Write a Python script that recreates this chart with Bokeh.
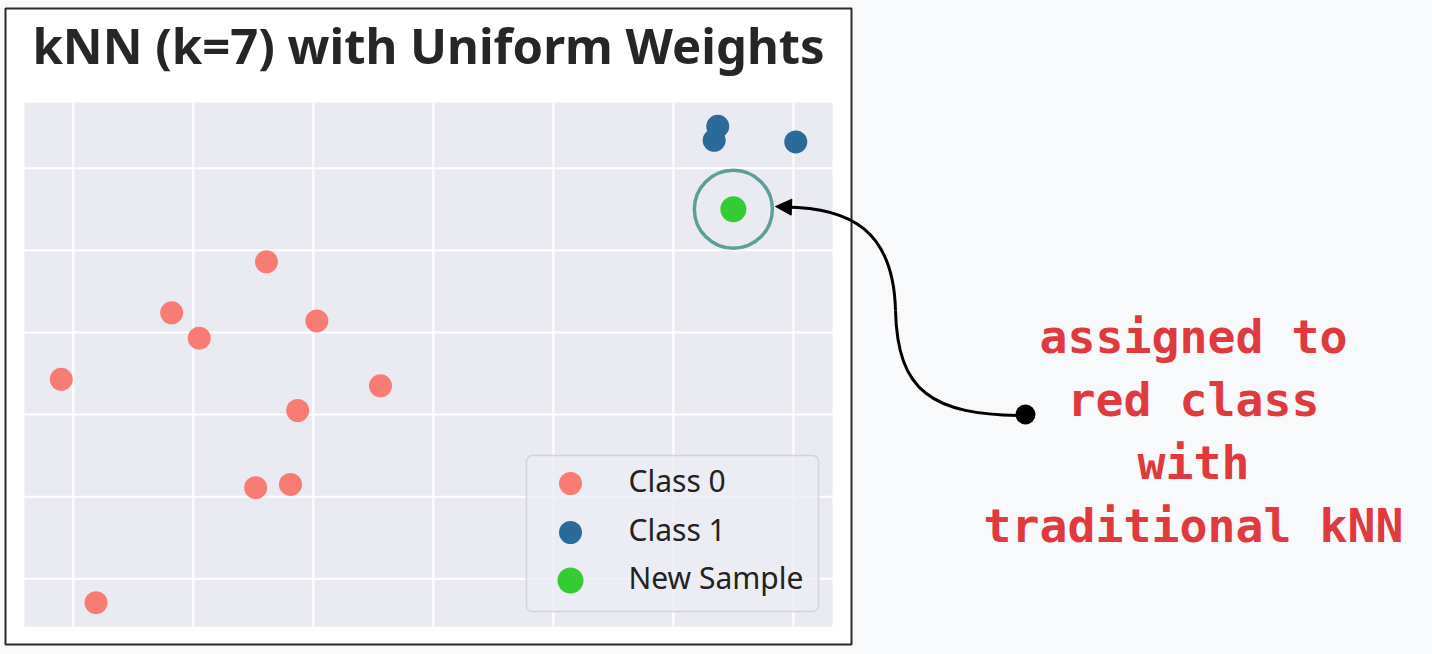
from bokeh.plotting import figure
from bokeh.models import Range1d, Arrow, NormalHead
from bokeh.core.properties import value
from bokeh.embed import file_html
from bokeh.resources import INLINE

# ---------------- data ----------------
title_text = "kNN (k=7) with Uniform Weights"
class0_x = [2.61, 1.82, 2.05, 3.03, 0.90, 3.56, 2.87, 2.52, 2.81, 1.19]
class0_y = [4.86, 4.24, 3.93, 4.14, 3.43, 3.35, 3.05, 2.11, 2.15, 0.71]
class1_x = [6.37, 6.34, 7.02]
class1_y = [6.51, 6.34, 6.32]
new_x = [6.5]
new_y = [5.5]
x_ticks = [1, 2, 3, 4, 5, 6, 7]
y_ticks = [1, 2, 3, 4, 5, 6]
legend_labels = ["Class 0", "Class 1", "New Sample"]
legend_colors = ["#f97c73", "#2a6b9b", "#33cc33"]
note_lines = ["assigned to", "red class", "with", "traditional kNN"]

# ---------------- layout (page pixels, y up) ----------------
W, H = 1432, 654
PA_L, PA_R, PA_B, PA_T = 24, 832, 28, 552      # grey plot area
BOX_L, BOX_R, BOX_B, BOX_T = 5, 851, 10, 646    # white panel
BASE_FIX = 0.43                                  # alphabetic baseline correction (x font size)

all_x = class0_x + class1_x + new_x
all_y = class0_y + class1_y + new_y
xspan = max(all_x) - min(all_x)
yspan = max(all_y) - min(all_y)
xlo, xhi = min(all_x) - 0.05 * xspan, max(all_x) + 0.05 * xspan
ylo, yhi = min(all_y) - 0.05 * yspan, max(all_y) + 0.05 * yspan

sx = (PA_R - PA_L) / (xhi - xlo)
sy = (PA_T - PA_B) / (yhi - ylo)
dx_range = Range1d(xlo - PA_L / sx, xlo + (W - PA_L) / sx)
dy_range = Range1d(ylo - PA_B / sy, ylo + (H - PA_B) / sy)

p = figure(width=W, height=H, x_range=Range1d(0, W), y_range=Range1d(0, H),
           x_axis_type=None, y_axis_type=None, output_backend="svg",
           toolbar_location=None, min_border=0, title=None)
p.extra_x_ranges = {"d": dx_range}
p.extra_y_ranges = {"d": dy_range}
p.outline_line_color = None
p.border_fill_color = "#f8f9fb"
p.background_fill_color = "#f8f9fb"

D = dict(x_range_name="d", y_range_name="d")

# white panel
p.quad(left=[BOX_L], right=[BOX_R], bottom=[BOX_B], top=[BOX_T],
       fill_color="white", line_color="#2b2b2b", line_width=2)

# grey plot area + grid
p.quad(left=[xlo], right=[xhi], bottom=[ylo], top=[yhi],
       fill_color="#eaeaf2", line_color=None, **D)
p.segment(x0=x_ticks, y0=[ylo] * len(x_ticks), x1=x_ticks, y1=[yhi] * len(x_ticks),
          line_color="white", line_width=2, **D)
p.segment(x0=[xlo] * len(y_ticks), y0=y_ticks, x1=[xhi] * len(y_ticks), y1=y_ticks,
          line_color="white", line_width=2, **D)

# points
p.scatter(class0_x, class0_y, size=23, fill_color=legend_colors[0], line_color=None, **D)
p.scatter(class1_x, class1_y, size=23, fill_color=legend_colors[1], line_color=None, **D)
p.scatter(new_x, new_y, size=78, fill_color=None, line_color="#5b9f98",
          line_width=3.5, **D)
p.scatter(new_x, new_y, size=26, fill_color=legend_colors[2], line_color=None, **D)

# legend (drawn by hand for exact spacing)
LG_L, LG_R, LG_B, LG_T = 526, 818, 43, 199
p.quad(left=[LG_L], right=[LG_R], bottom=[LG_B], top=[LG_T],
       fill_color="#eceef4", fill_alpha=0.8, line_color="#d3d4da", line_width=1.5,
       border_radius=6)
row_y = [171, 122, 74]
p.scatter([570] * 3, row_y, size=[23, 23, 26], fill_color=legend_colors, line_color=None)
lab_fs = 30
p.text(x=[628] * 3, y=[y - 10 + BASE_FIX * lab_fs for y in row_y], text=legend_labels,
       text_align="left", text_baseline="alphabetic",
       text_font=value("Noto Sans"), text_font_size=f"{lab_fs}px", text_color="#222222")

# title
tfs = 49
p.text(x=[(BOX_L + BOX_R) / 2], y=[654 - 66 + BASE_FIX * tfs], text=[title_text],
       text_align="center", text_baseline="alphabetic",
       text_font=value("Noto Sans"), text_font_style="bold",
       text_font_size=f"{tfs}px", text_color="#262626")

# annotation text
nfs = 46.5
base_y = 654 - 356
pitch = 63.3
p.text(x=[1193] * len(note_lines),
       y=[base_y - i * pitch + BASE_FIX * nfs for i in range(len(note_lines))],
       text=note_lines, text_align="center", text_baseline="alphabetic",
       text_font=value("DejaVu Sans Mono"), text_font_style="bold",
       text_font_size=f"{nfs}px", text_color="#e0393e")

# curved arrow
p.bezier(x0=[1025, 895], y0=[239, 344], x1=[895, 784], y1=[344, 447.5],
         cx0=[930, 893], cy0=[239, 424], cx1=[897, 850], cy1=[264, 447],
         line_color="black", line_width=3)
p.scatter([1025], [240], size=20, fill_color="black", line_color=None)
p.add_layout(Arrow(end=NormalHead(size=16, fill_color="black", line_color="black"),
                   x_start=792, y_start=447.3, x_end=775, y_end=448,
                   line_color="black", line_width=3))

open("out.html", "w").write(file_html(p, INLINE))
